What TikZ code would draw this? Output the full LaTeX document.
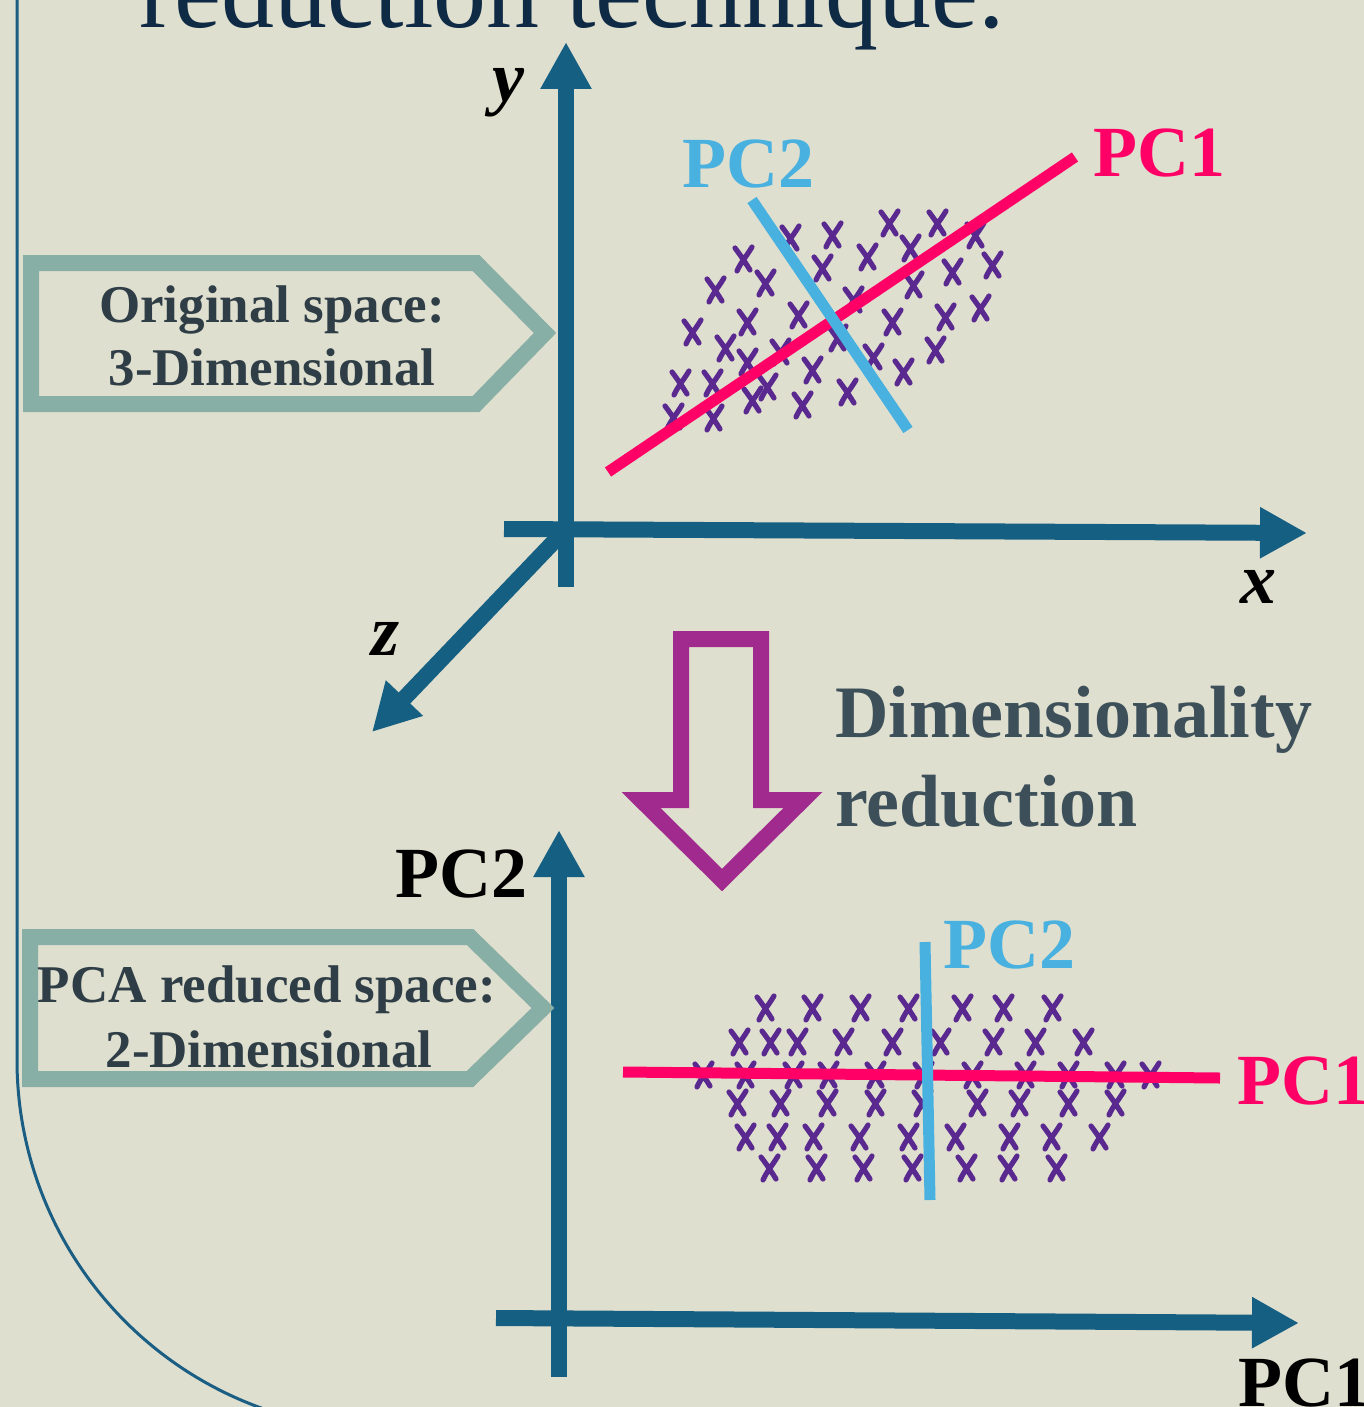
\documentclass[tikz,border=0pt]{standalone}
\usepackage{fontspec}
\setmainfont{Liberation Serif}
\usetikzlibrary{arrows.meta}
\definecolor{bg}{HTML}{DFDFCF}
\definecolor{axisc}{HTML}{155F82}
\definecolor{boxc}{HTML}{88AFA6}
\definecolor{slate}{HTML}{2F3E46}
\definecolor{slatetwo}{HTML}{3D5059}
\definecolor{navy}{HTML}{0F2A44}
\definecolor{pcpink}{HTML}{FF0066}
\definecolor{sky}{HTML}{48B1E0}
\definecolor{grape}{HTML}{5A2990}
\definecolor{plum}{HTML}{A12A8F}
\definecolor{framec}{HTML}{1B5E83}
\begin{document}
\begin{tikzpicture}[x=1pt,y=-1pt,
  axisln/.style={draw=axisc,line width=16pt,-{Triangle[length=47pt,width=48pt]}},
  boxln/.style={draw=boxc,line width=16pt,miter limit=10,line join=miter},
  pconeln/.style={draw=pcpink,line width=11pt},
  pctwoln/.style={draw=sky,line width=11pt},
  xm/.style={draw=grape,line width=5.2pt,line cap=round},
  xmk/.pic={\draw[xm] (-8,-11) .. controls (-2,-3) and (2,3) .. (7,11) (9,-12) .. controls (3,-2) and (-2,3) .. (-6,12);},
  lbl/.style={anchor=base west,inner sep=0pt},
  boxtxt/.style={anchor=base,inner sep=0pt,text=slate,font=\fontsize{53}{60}\selectfont\bfseries},
  pcfont/.style={font=\fontsize{72}{80}\selectfont\bfseries},
  axfont/.style={anchor=base,inner sep=0pt,font=\fontsize{72}{80}\selectfont\bfseries\itshape}]
\useasboundingbox (0,0) rectangle (1364,1407);
\clip (0,0) rectangle (1364,1407);
\fill[bg] (0,0) rectangle (1364,1407);

% frame line
\draw[framec,line width=3pt] (17,-10) -- (17,1060) arc (180:100:370);

% title
\node[lbl,text=navy,font=\fontsize{106}{110}\selectfont] (title) at (139,28) {reduction technique.};

% ---------- top 3D axes ----------
\coordinate (o1) at (566,529);
\coordinate (ybot) at (566,587);
\coordinate (ytop) at (566,42);
\coordinate (xleft) at (504,529);
\coordinate (xright) at (1307,533);
\coordinate (ztip) at (372,732);
\draw[axisln] (o1) -- (ztip);
\draw[axisln] (xleft) -- (xright);
\draw[axisln] (ybot) -- (ytop);
\node[axfont] (ylab) at (508,102) {y};
\node[axfont] (xlab) at (1258,603) {x};
\node[axfont] (zlab) at (386,655) {z};

% top scatter
\foreach \p in {(790,238),(832,235),(889,223),(937,223),(975,235),(743,259),(822,268),(867,257),(910,248),(952,272),(992,265),(715,290),(765,283),(913,285),(853,300),(692,332),(747,322),(798,315),(892,322),(945,317),(980,308),(725,348),(747,362),(780,352),(837,338),(873,357),(935,350),(680,383),(712,383),(767,387),(812,370),(903,372),(673,417),(713,418),(752,400),(802,405),(847,392)}
  \pic at \p {xmk};
\coordinate (p1a) at (608,472);
\coordinate (p1b) at (1075,157);
\coordinate (p2a) at (752,200);
\coordinate (p2b) at (908,430);
\draw[pconeln] (p1a) -- (p1b);
\draw[pctwoln] (p2a) -- (p2b);
\node[lbl,pcfont,text=sky] (pctwotop) at (682,187) {PC2};
\node[lbl,pcfont,text=pcpink] (pconetop) at (1093,177) {PC1};

% original space box
\draw[boxln] (31,263) -- (476,263) -- (545,333) -- (476,404) -- (31,404) -- cycle;
\node[boxtxt] (orig1) at (272,322) {Original space:};
\node[boxtxt] (orig2) at (272,385) {3-Dimensional};

% ---------- reduction arrow ----------
\draw[draw=plum,line width=16pt,line join=miter,miter limit=10]
  (681,639) -- (761,639) -- (761,800) -- (803,800) -- (722,880) -- (641,800) -- (681,800) -- cycle;
\node[lbl,text=slatetwo,font=\fontsize{74}{80}\selectfont\bfseries] (dim1) at (835,737) {Dimensionality};
\node[lbl,text=slatetwo,font=\fontsize{74}{80}\selectfont\bfseries] (dim2) at (835,826) {reduction};

% ---------- bottom 2D axes ----------
\coordinate (vbot) at (559,1377);
\coordinate (vtop) at (559,830);
\coordinate (hleft) at (496,1318);
\coordinate (hright) at (1299,1323);
\draw[axisln] (hleft) -- (hright);
\draw[axisln] (vbot) -- (vtop);
\node[lbl,pcfont,text=black] (pctwoax) at (395,897) {PC2};
\node[lbl,pcfont,text=black] (pconeax) at (1238,1406) {PC1};

% PCA box
\draw[boxln] (30,937) -- (470,937) -- (543,1008) -- (470,1079) -- (30,1079) -- cycle;
\node[boxtxt] (pca1) at (267,1002) {PCA reduced space:};
\node[boxtxt] (pca2) at (269,1067) {2-Dimensional};

% bottom scatter
\foreach \p in {(765,1008),(812,1008),(860,1008),(908,1008),(962,1008),(1003,1008),(1052,1008),
  (739,1042),(770,1042),(797,1042),(843,1042),(892,1042),(940,1042),(993,1042),(1035,1042),(1083,1042),
  (703,1075),(745,1075),(793,1075),(828,1075),(875,1075),(923,1075),(972,1075),(1025,1075),(1068,1075),(1115,1075),(1150,1075),
  (737,1103),(780,1103),(827,1103),(875,1103),(922,1103),(977,1103),(1019,1103),(1068,1103),(1115,1103),
  (745,1137),(777,1137),(813,1137),(859,1137),(908,1137),(955,1137),(1009,1137),(1051,1137),(1099,1137),
  (769,1168),(816,1168),(863,1168),(912,1168),(966,1168),(1008,1168),(1056,1168)}
  \pic at \p {xmk};
\coordinate (q1a) at (623,1072);
\coordinate (q1b) at (1220,1078);
\coordinate (q2a) at (925,942);
\coordinate (q2b) at (930,1200);
\draw[pconeln] (q1a) -- (q1b);
\draw[pctwoln] (q2a) -- (q2b);
\node[lbl,pcfont,text=sky] (pctwobot) at (943,968) {PC2};
\node[lbl,pcfont,text=pcpink] (pconebot) at (1237,1104) {PC1};
\end{tikzpicture}
\end{document}
